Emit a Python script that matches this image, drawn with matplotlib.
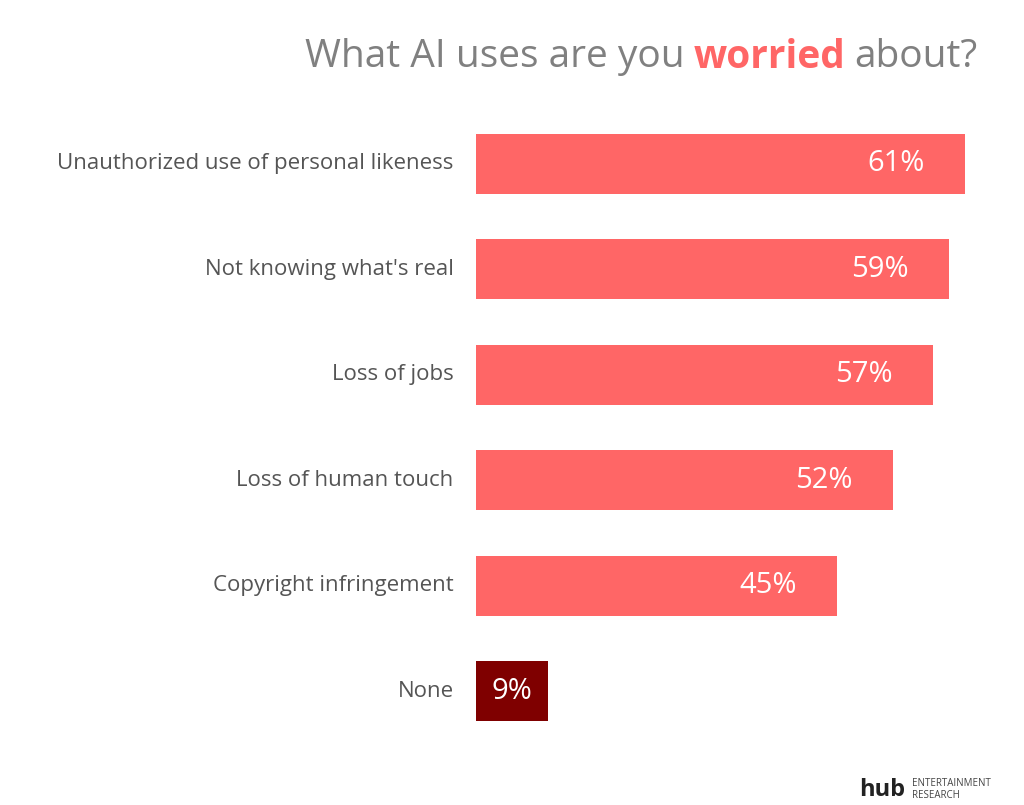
import matplotlib.pyplot as plt

categories = ["Unauthorized use of personal likeness", "Not knowing what's real",
              "Loss of jobs", "Loss of human touch", "Copyright infringement", "None"]
values = [61, 59, 57, 52, 45, 9]
colors = ["#FF6666"] * 5 + ["#7F0000"]

plt.rcParams['font.family'] = ['Open Sans', 'DejaVu Sans']
fig = plt.figure(figsize=(10.24, 8.05), dpi=100)
ax = fig.add_axes([476 / 1024, 1 - 744 / 805, (965 - 476) / 1024, 633 / 805])
y = list(range(len(values)))
ax.barh(y, values, height=0.57, color=colors)
ax.set_xlim(0, 61)
ax.set_ylim(len(values) - 0.5, -0.5)
ax.axis("off")

for i, (c, v) in enumerate(zip(categories, values)):
    ax.text(-2.8, i, c, ha="right", va="center", fontsize=16, color="#555555")
    if v < 15:
        ax.text(v / 2, i, f"{v}%", ha="center", va="center", fontsize=21, color="white")
    else:
        ax.text(v - 5, i, f"{v}%", ha="right", va="center", fontsize=21, color="white")

ty = 1 - 57 / 805
t1 = fig.text(978 / 1024, ty, "about?", ha="right", va="center", fontsize=28, color="#808080")
fig.canvas.draw()
r = fig.canvas.get_renderer()
x1 = t1.get_window_extent(r).x0
t2 = fig.text((x1 - 9) / 1024, ty, "worried", ha="right", va="center", fontsize=28,
              color="#FF6666", fontweight="bold")
x2 = t2.get_window_extent(r).x0
fig.text((x2 - 9) / 1024, ty, "What AI uses are you", ha="right", va="center",
         fontsize=28, color="#808080")

fig.text(905 / 1024, 1 - 790 / 805, "hub", ha="right", va="center", fontsize=17,
         fontweight="bold", color="#222222")
fig.text(912 / 1024, 1 - 783 / 805, "ENTERTAINMENT", ha="left", va="center", fontsize=7, color="#444444")
fig.text(912 / 1024, 1 - 795 / 805, "RESEARCH", ha="left", va="center", fontsize=7, color="#444444")

fig.savefig("out.png", dpi=100, facecolor="white")
